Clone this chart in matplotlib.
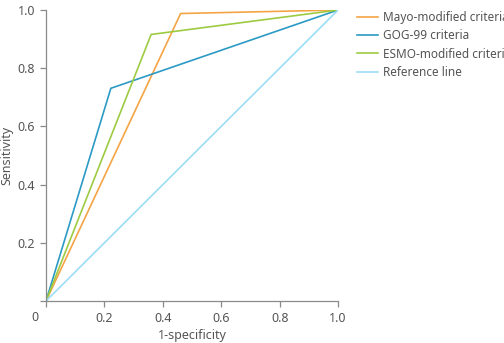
import matplotlib
matplotlib.use("Agg")
import matplotlib.pyplot as plt

plt.rcParams['font.family'] = ['Noto Sans', 'DejaVu Sans']

# ROC points (1-specificity, sensitivity)
mayo_x = [0, 0.461, 1.0]
mayo_y = [0, 0.988, 1.0]
gog_x = [0, 0.222, 1.0]
gog_y = [0, 0.731, 1.0]
esmo_x = [0, 0.36, 1.0]
esmo_y = [0, 0.916, 1.0]
ref_x = [0, 1.0]
ref_y = [0, 1.0]

labels = ['Mayo-modified criteria', 'GOG-99 criteria', 'ESMO-modified criteria', 'Reference line']
colors = ['#F5A445', '#2B9AC4', '#9DCB42', '#9DDCF6']
ticks = [0.2, 0.4, 0.6, 0.8, 1.0]
tick_labels = ['0.2', '0.4', '0.6', '0.8', '1.0']

fig = plt.figure(figsize=(5.04, 3.43), dpi=100)
ax = fig.add_axes([0.0913, 0.1224, 0.5794, 0.8484])

series = [(mayo_x, mayo_y), (gog_x, gog_y), (esmo_x, esmo_y), (ref_x, ref_y)]
for (xs, ys), lab, c in zip(series, labels, colors):
    ax.plot(xs, ys, color=c, lw=1.2, label=lab)

ax.set_xlim(0, 1)
ax.set_ylim(0, 1)
ax.set_xticks([0] + ticks)
ax.set_xticklabels([''] + tick_labels)
ax.set_yticks([0] + ticks)
ax.set_yticklabels([''] + tick_labels)
ax.annotate('0', xy=(0, 0), xycoords='axes fraction', xytext=(-8, -7),
            textcoords='offset points', ha='center', va='top',
            fontsize=9, color='#555555')

for s in ['top', 'right']:
    ax.spines[s].set_visible(False)
for s in ['left', 'bottom']:
    ax.spines[s].set_color('#8a8a8a')
    ax.spines[s].set_linewidth(0.9)
ax.tick_params(direction='out', length=4, width=0.9, color='#8a8a8a',
               labelsize=9, labelcolor='#555555', pad=4)

ax.set_xlabel('1-specificity', fontsize=9, color='#555555', labelpad=3)
ax.set_ylabel('Sensitivity', fontsize=9, color='#555555', labelpad=3)

fig.legend(loc='upper left', bbox_to_anchor=(0.708, 0.968), frameon=False,
           fontsize=8.5, handlelength=1.8, handletextpad=0.4,
           labelspacing=0.45, borderpad=0, borderaxespad=0,
           labelcolor='#555555')

fig.savefig('out.png', dpi=100)
